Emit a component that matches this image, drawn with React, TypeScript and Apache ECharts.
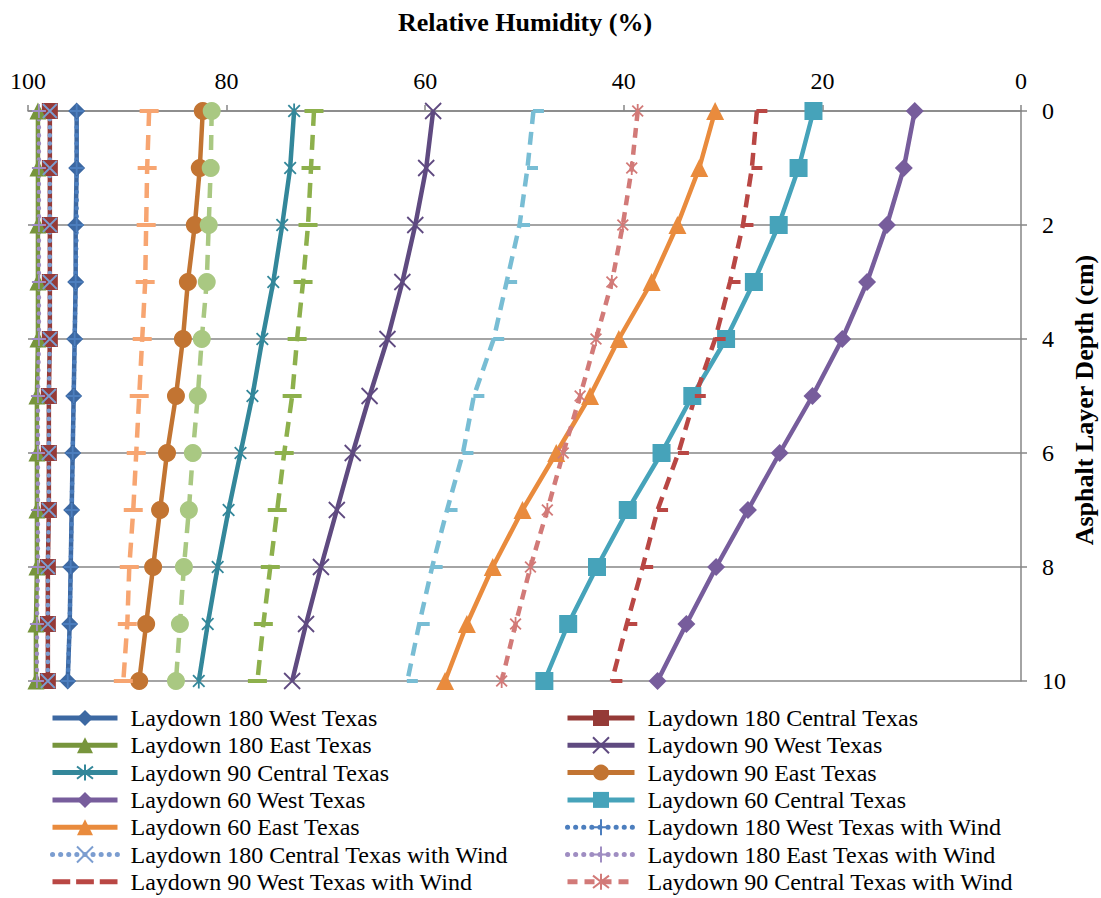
import React, { useEffect, useRef } from "react";
import * as echarts from "echarts";

const depths = [0, 1, 2, 3, 4, 5, 6, 7, 8, 9, 10];

const ld180West = [95.1, 95.1, 95.2, 95.2, 95.3, 95.4, 95.5, 95.6, 95.7, 95.8, 96.0];
const ld180Central = [97.8, 97.8, 97.8, 97.8, 97.8, 97.9, 97.9, 97.9, 98.0, 98.0, 98.0];
const ld180East = [99.0, 99.0, 99.0, 99.0, 99.0, 99.1, 99.1, 99.1, 99.1, 99.2, 99.2];
const ld90West = [59.2, 59.9, 61.0, 62.3, 63.8, 65.6, 67.3, 68.9, 70.5, 72.0, 73.4];
const ld90Central = [73.2, 73.6, 74.4, 75.3, 76.4, 77.4, 78.6, 79.8, 80.9, 81.9, 82.8];
const ld90East = [82.4, 82.7, 83.2, 83.9, 84.4, 85.1, 86.0, 86.7, 87.4, 88.1, 88.8];
const ld60West = [10.7, 11.8, 13.5, 15.5, 18.0, 21.0, 24.3, 27.5, 30.7, 33.7, 36.6];
const ld60Central = [20.9, 22.4, 24.4, 26.9, 29.7, 33.1, 36.2, 39.6, 42.7, 45.6, 48.0];
const ld60East = [30.8, 32.4, 34.6, 37.2, 40.5, 43.4, 46.8, 50.2, 53.2, 55.8, 58.0];
const ld180WestWind = [95.1, 95.1, 95.1, 95.2, 95.3, 95.4, 95.5, 95.6, 95.7, 95.8, 96.0];
const ld180CentralWind = [97.8, 97.8, 97.8, 97.8, 97.8, 97.9, 97.9, 97.9, 98.0, 98.0, 98.0];
const ld180EastWind = [98.9, 98.9, 98.9, 98.9, 98.9, 99.0, 99.0, 99.0, 99.0, 99.1, 99.1];
const ld90WestWind = [26.6, 27.1, 28.0, 29.3, 30.8, 32.8, 34.5, 36.6, 38.1, 39.7, 41.2];
const ld90CentralWind = [38.6, 39.2, 40.1, 41.2, 42.8, 44.4, 46.1, 47.7, 49.4, 50.9, 52.3];
const ld90EastWind = [71.2, 71.5, 71.8, 72.3, 72.9, 73.4, 74.2, 74.9, 75.6, 76.3, 76.9];
const ld60WestWind = [49.1, 49.7, 50.5, 51.8, 53.1, 55.1, 56.2, 57.8, 59.3, 60.6, 61.8];
const ld60CentralWind = [81.5, 81.6, 81.8, 82.0, 82.5, 82.9, 83.4, 83.8, 84.3, 84.7, 85.1];
const ld60EastWind = [87.8, 88.0, 88.1, 88.2, 88.5, 88.8, 89.1, 89.4, 89.8, 90.0, 90.4];

const FONT = '"Liberation Serif", "Times New Roman", serif';
const GRID = "#868686";

const X_SYM = "path://M0,0L10,10M10,0L0,10";
const PLUS_SYM = "path://M5,0L5,10M0,5L10,5";
const STAR_SYM = "path://M0,0L10,10M10,0L0,10M5,-1.5L5,11.5";
const DASH_LEGEND = "path://M0,0h18v5h-18z M24,0h18v5h-18z M48,0h18v5h-18z";

type Cfg = {
  name: string;
  values: number[];
  color: string;
  symbol: string;
  size: number | number[];
  lineType?: any;
  cap?: string;
  width?: number;
  stroke?: boolean;
  offset?: number[];
  legendIcon?: string;
  legend: number; // 0 left, 1 right, -1 none
};

const configs: Cfg[] = [
  { name: "Laydown 180 West Texas", values: ld180West, color: "#3C68A2", symbol: "diamond", size: 17, legend: 0 },
  { name: "Laydown 180 Central Texas", values: ld180Central, color: "#953A37", symbol: "rect", size: 16, legend: 1 },
  { name: "Laydown 180 East Texas", values: ld180East, color: "#77953C", symbol: "triangle", size: 17, legend: 0 },
  { name: "Laydown 90 West Texas", values: ld90West, color: "#5F4A80", symbol: X_SYM, size: 16, stroke: true, legend: 1 },
  { name: "Laydown 90 Central Texas", values: ld90Central, color: "#33879A", symbol: STAR_SYM, size: 15, stroke: true, legend: 0 },
  { name: "Laydown 90 East Texas", values: ld90East, color: "#C27432", symbol: "circle", size: 18, legend: 1 },
  { name: "Laydown 60 West Texas", values: ld60West, color: "#775D9C", symbol: "diamond", size: 18, legend: 0 },
  { name: "Laydown 60 Central Texas", values: ld60Central, color: "#46A3BA", symbol: "rect", size: 18, legend: 1 },
  { name: "Laydown 60 East Texas", values: ld60East, color: "#E98B3D", symbol: "triangle", size: 18, legend: 0 },
  { name: "Laydown 180 West Texas with Wind", values: ld180WestWind, color: "#4C7EBE", symbol: PLUS_SYM, size: 14, stroke: true, lineType: [0.1, 8], cap: "round", legend: 1 },
  { name: "Laydown 180 Central Texas with Wind", values: ld180CentralWind, color: "#7B9DD0", symbol: X_SYM, size: 14, stroke: true, lineType: [0.1, 8], cap: "round", legend: 0 },
  { name: "Laydown 180 East Texas with Wind", values: ld180EastWind, color: "#9F8DC2", symbol: PLUS_SYM, size: 14, stroke: true, lineType: [0.1, 8], cap: "round", legend: 1 },
  { name: "Laydown 90 West Texas with Wind", values: ld90WestWind, color: "#B94744", symbol: "rect", size: [11, 4], offset: [5, 0], lineType: [13, 8], legendIcon: DASH_LEGEND, legend: 0 },
  { name: "Laydown 90 Central Texas with Wind", values: ld90CentralWind, color: "#D27A78", symbol: STAR_SYM, size: 14, stroke: true, lineType: [10, 7], legend: 1 },
  { name: "Laydown 90 East Texas with Wind", values: ld90EastWind, color: "#8DB04C", symbol: "rect", size: [19, 4], lineType: [15, 9], legend: -1 },
  { name: "Laydown 60 West Texas with Wind", values: ld60WestWind, color: "#78BDD4", symbol: "rect", size: [11, 4], offset: [5, 0], lineType: [13, 8], legend: -1 },
  { name: "Laydown 60 Central Texas with Wind", values: ld60CentralWind, color: "#A9C882", symbol: "circle", size: 18, lineType: [15, 9], legend: -1 },
  { name: "Laydown 60 East Texas with Wind", values: ld60EastWind, color: "#F7A571", symbol: "rect", size: [19, 4], lineType: [15, 9], legend: -1 },
];

export default function App() {
  const ref = useRef<HTMLDivElement>(null);

  useEffect(() => {
    document.body.style.margin = "0";
    if (!ref.current) return;
    const chart = echarts.init(ref.current, undefined, { renderer: "svg" });

    const series = configs.map((c) => ({
      name: c.name,
      type: "line",
      data: c.values.map((v, i) => [v, depths[i]]),
      symbol: c.symbol,
      symbolSize: c.size,
      symbolOffset: c.offset || [0, 0],
      symbolKeepAspect: true,
      showSymbol: true,
      lineStyle: {
        color: c.color,
        width: c.width || 4.5,
        type: c.lineType || "solid",
        cap: c.cap || "butt",
      },
      itemStyle: c.stroke
        ? { color: c.color, borderColor: c.color, borderWidth: 1.8 }
        : { color: c.color, borderWidth: 0 },
      emphasis: { disabled: true },
      z: 2,
    }));

    const legendItems = (col: number) =>
      configs
        .filter((c) => c.legend === col)
        .map((c) => (c.legendIcon ? { name: c.name, icon: c.legendIcon } : { name: c.name }));

    const legendCommon = {
      orient: "vertical",
      top: 706,
      height: 192,
      padding: 0,
      itemGap: 3.3,
      itemHeight: 20,
      selectedMode: false,
      lineStyle: { width: 5 },
      textStyle: { fontSize: 24, color: "#000", fontFamily: FONT, padding: [0, 0, 0, 8] },
    };

    chart.setOption({
      animation: false,
      backgroundColor: "#fff",
      grid: { left: 28, right: 80, top: 111, bottom: 217, containLabel: false },
      xAxis: {
        type: "value",
        position: "top",
        inverse: true,
        min: 0,
        max: 100,
        interval: 20,
        axisLine: { show: true, lineStyle: { color: GRID, width: 1.5 } },
        axisTick: { show: true, length: 6, lineStyle: { color: GRID, width: 1.5 } },
        axisLabel: { fontSize: 24, color: "#000", fontFamily: FONT, margin: 18 },
        splitLine: { show: false },
      },
      yAxis: {
        type: "value",
        position: "right",
        inverse: true,
        min: 0,
        max: 10,
        interval: 2,
        axisLine: { show: true, lineStyle: { color: GRID, width: 1.5 } },
        axisTick: { show: true, length: 6, lineStyle: { color: GRID, width: 1.5 } },
        axisLabel: { fontSize: 24, color: "#000", fontFamily: FONT, margin: 21 },
        splitLine: { show: true, lineStyle: { color: GRID, width: 1.5 } },
      },
      legend: [
        { ...legendCommon, left: 50, itemWidth: 65, data: legendItems(0) },
        { ...legendCommon, left: 565, itemWidth: 67, data: legendItems(1) },
      ],
      graphic: [
        {
          type: "text",
          x: 525,
          y: 22,
          style: {
            text: "Relative Humidity (%)",
            fontSize: 26,
            fontWeight: "bold",
            fontFamily: FONT,
            fill: "#000",
            align: "center",
            verticalAlign: "middle",
          },
        },
        {
          type: "text",
          x: 1084,
          y: 400,
          rotation: Math.PI / 2,
          style: {
            text: "Asphalt Layer Depth (cm)",
            fontSize: 26,
            fontWeight: "bold",
            fontFamily: FONT,
            fill: "#000",
            align: "center",
            verticalAlign: "middle",
          },
        },
      ],
      series,
    });

    return () => chart.dispose();
  }, []);

  return <div ref={ref} style={{ width: 1101, height: 898 }} />;
}
